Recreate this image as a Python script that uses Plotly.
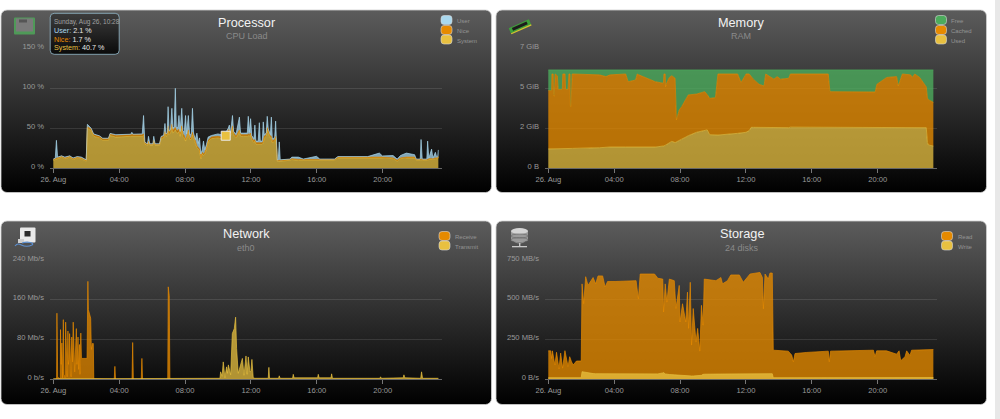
import base64
import plotly.graph_objects as go

# Server monitoring dashboard: four area panels for one day of samples.
tick_hours = [0, 4, 8, 12, 16, 20]
tick_labels = ["26. Aug", "04:00", "08:00", "12:00", "16:00", "20:00"]

# Processor load, percent
cpu_hours = [0.00, 0.12, 0.19, 0.26, 0.50, 0.70, 1.00, 1.20, 1.45, 1.70, 2.00, 2.07, 2.30, 2.45, 2.80, 3.00, 3.35, 3.45, 3.80, 4.70,
             4.77, 4.85, 5.40, 5.48, 5.56, 5.72, 5.78, 5.86, 6.05, 6.10, 6.18, 6.45,
             6.55, 6.70, 6.78, 6.84, 6.92, 6.97, 7.03, 7.12, 7.20, 7.26, 7.34, 7.41, 7.47, 7.56, 7.63, 7.70, 7.80, 7.87, 7.95, 8.03,
             8.10, 8.20, 8.28, 8.38, 8.45, 8.52, 8.62, 8.72, 8.80, 8.88, 8.96, 9.04, 9.12, 9.20, 9.30, 9.40, 9.60, 10.00, 10.20, 10.47,
             10.62, 10.69, 10.76, 10.88, 10.95, 11.10, 11.30, 11.37, 11.55, 11.78, 11.84, 11.90, 11.98, 12.05, 12.18, 12.24, 12.30, 12.44, 12.51, 12.57,
             12.69, 12.75, 12.81, 12.93, 12.99, 13.05, 13.18, 13.24, 13.30, 13.44, 13.50, 13.55, 13.60, 13.66, 13.72, 13.78,
             14.38, 14.48, 14.88, 15.18, 15.98, 16.18, 17.08, 17.28, 19.08, 19.80, 19.98, 20.63, 20.88, 21.08, 21.44, 21.94, 22.04, 22.28, 22.33, 22.40,
             22.68, 22.73, 22.80, 22.97, 23.05, 23.20, 23.27, 23.34, 23.38]
cpu_system = [10, 11, 11, 12, 14, 12, 14, 11, 13, 12, 9, 50, 47, 40, 38, 35, 35, 41, 39, 40,
              40, 40, 40, 41, 30, 29, 33, 29, 29, 34, 29, 29,
              37, 38, 44, 40, 41, 50, 42, 44, 52, 44, 46, 48, 45, 44, 46, 40, 50, 40, 38, 34,
              38, 46, 36, 36, 42, 38, 30, 26, 24, 22, 12, 18, 16, 18, 24, 33, 37, 38, 37, 40.7,
              46, 46, 40, 50, 42, 38, 46, 40, 40, 40, 41, 40, 42, 36, 32, 34, 30, 30, 30, 30,
              30, 32, 38, 40, 48, 44, 38, 38, 32, 34, 38, 28, 9, 9, 9, 9,
              10, 11, 10, 10, 10, 10, 10, 13, 13, 13, 13, 12, 9, 12, 13, 13, 10, 10, 11, 10,
              10, 10, 11, 11, 11, 12, 12, 12, 14]
cpu_nice = [1, 1, 1, 1, 1, 1, 1, 1, 1, 1, 1, 2, 2, 2, 2, 2, 2, 2, 2, 2,
            2, 2, 2, 2, 2, 1, 1, 1, 1, 1, 1, 1,
            2, 2, 2, 2, 2, 3, 3, 3, 3, 3, 3, 3, 3, 3, 3, 3, 3, 3, 3, 2,
            2, 2, 2, 2, 3, 2, 2, 2, 2, 2, 2, 2, 2, 2, 2, 2, 2, 2, 2, 1.7,
            2, 2, 2, 3, 2, 2, 2, 2, 2, 2, 2, 2, 2, 2, 2, 2, 2, 2, 2, 2,
            2, 2, 2, 2, 3, 3, 2, 2, 2, 2, 2, 2, 1, 1, 1, 1,
            1, 1, 1, 1, 1, 1, 1, 1, 1, 1, 1, 1, 1, 1, 1, 1, 1, 1, 1, 1,
            1, 1, 1, 1, 1, 1, 1, 1, 1]
cpu_user = [0.6, 0.6, 23, 1, 0.6, 1, 0.6, 1, 0.6, 1, 0.6, 3, 1, 1, 0.6, 0.6, 0.6, 0.6, 1, 0.6,
            3, 0.6, 1, 23, 0.6, 0.6, 6, 0.6, 0.6, 5, 0.6, 0.6,
            1, 1, 10, 1, 2, 24, 2, 2, 20, 3, 3, 49, 3, 4, 17, 3, 22, 4, 4, 30,
            3, 18, 4, 5, 30, 4, 4, 16, 5, 14, 4, 3, 16, 3, 4, 4, 2, 3, 3, 2.1,
            2, 6, 2, 13, 2, 3, 16, 2, 2, 2, 22, 3, 18, 3, 3, 18, 2, 2, 25, 2,
            2, 24, 2, 2, 14, 3, 2, 24, 3, 2, 19, 2, 0.6, 0.6, 23, 0.6,
            0.6, 2, 3, 0.6, 4, 0.6, 0.6, 0.6, 0.6, 5, 1.5, 3, 1.5, 3, 5, 3, 0.6, 0.6, 24, 0.6,
            0.6, 23, 0.6, 12, 0.6, 7, 1.5, 1.5, 8]
hover_hour = [10.47]
hover_system = [40.7]

# Memory, GiB
mem_hours = [0.00, 0.20, 0.22, 0.30, 0.32, 0.36, 0.42, 0.55, 0.60, 0.85, 0.88, 1.02, 1.05, 1.20, 1.25, 1.32, 1.34, 1.38, 1.45, 3.10,
             3.50, 3.75, 4.70, 4.85, 5.30, 5.40, 5.50, 5.95, 6.50, 6.99, 7.02, 7.10, 7.12, 7.20, 7.35, 7.50, 7.70, 7.78, 7.95, 8.10,
             8.35, 8.50, 9.00, 9.50, 9.65, 9.80, 10.15, 10.30, 11.50, 11.70, 11.95, 12.00, 12.20, 12.32, 12.45, 12.80, 13.10, 13.20, 13.70, 13.90,
             14.10, 14.60, 14.70, 17.00, 17.10, 19.85, 19.95, 20.55, 21.15, 21.25, 21.50, 22.00, 22.10, 22.25, 22.55, 22.95, 23.02, 23.08, 23.38]
mem_used = [1.13, 1.13, 1.13, 1.13, 1.13, 1.13, 1.14, 1.14, 1.14, 1.15, 1.15, 1.15, 1.15, 1.16, 1.16, 1.16, 1.16, 1.16, 1.16, 1.20,
            1.22, 1.24, 1.24, 1.24, 1.24, 1.24, 1.24, 1.24, 1.24, 1.30, 1.30, 1.35, 1.35, 1.40, 1.50, 1.57, 1.50, 1.55, 1.65, 1.70,
            1.82, 1.90, 2.10, 2.24, 2.24, 1.96, 1.94, 1.94, 2.04, 2.05, 2.07, 2.10, 2.20, 2.39, 2.39, 2.38, 2.37, 2.37, 2.37, 2.37,
            2.37, 2.37, 2.40, 2.39, 2.37, 2.38, 2.39, 2.38, 2.38, 2.39, 2.37, 2.38, 2.38, 2.38, 2.38, 2.37, 1.50, 1.36, 1.30]
mem_cached = [3.40, 3.40, 4.37, 4.37, 3.17, 3.07, 4.36, 4.26, 3.46, 3.45, 4.35, 4.35, 3.45, 3.44, 4.34, 4.34, 2.44, 2.44, 4.34, 4.25,
              4.13, 4.21, 4.26, 3.81, 3.91, 4.26, 4.21, 4.01, 3.81, 3.66, 4.20, 4.15, 3.40, 3.60, 3.80, 3.83, 3.75, 1.27, 1.75, 1.90,
              2.18, 2.38, 2.23, 2.23, 2.06, 2.12, 2.18, 3.56, 3.46, 2.95, 3.33, 3.40, 3.30, 2.96, 2.81, 2.52, 2.43, 3.13, 2.83, 2.98,
              2.83, 2.88, 3.10, 3.11, 2.10, 2.07, 2.51, 2.92, 2.97, 2.41, 3.13, 3.07, 2.92, 3.12, 2.92, 2.38, 2.60, 2.64, 2.55]
mem_free = [1.21, 1.21, 0.24, 0.24, 1.44, 1.54, 0.24, 0.34, 1.14, 1.14, 0.24, 0.24, 1.14, 1.14, 0.24, 0.24, 2.14, 2.14, 0.24, 0.29,
            0.39, 0.29, 0.24, 0.69, 0.59, 0.24, 0.29, 0.49, 0.69, 0.78, 0.24, 0.24, 0.99, 0.74, 0.44, 0.34, 0.49, 2.92, 2.34, 2.14,
            1.74, 1.46, 1.41, 1.27, 1.44, 1.66, 1.62, 0.24, 0.24, 0.74, 0.34, 0.24, 0.24, 0.39, 0.54, 0.84, 0.94, 0.24, 0.54, 0.39,
            0.54, 0.49, 0.24, 0.24, 1.27, 1.29, 0.84, 0.44, 0.39, 0.94, 0.24, 0.29, 0.44, 0.24, 0.44, 0.99, 1.64, 1.74, 1.89]

# Network throughput on eth0, Mb/s
rx_hours = [0.00, 0.20, 0.22, 0.27, 0.42, 0.44, 0.48, 0.52, 0.56, 0.61, 0.65, 0.72, 0.75, 0.79, 0.84, 0.89, 0.92, 0.95, 0.99, 1.03,
            1.08, 1.12, 1.16, 1.21, 1.25, 1.30, 1.40, 1.44, 1.50, 1.54, 1.59, 1.62, 1.67, 1.71, 2.05, 2.10, 2.13, 2.20, 2.27, 2.31,
            2.37, 2.43, 2.46, 3.70, 3.74, 3.78, 4.78, 4.82, 4.86, 5.34, 5.38, 5.42, 6.95, 6.98, 7.04, 7.08, 23.38]
rx_rate = [0, 1, 133, 4, 1, 100, 30, 73, 3, 120, 10, 3, 115, 30, 5, 97, 30, 40, 92, 25,
           5, 85, 35, 115, 40, 15, 102, 30, 85, 20, 70, 10, 93, 42, 42, 197, 140, 133, 123, 60,
           72, 72, 1, 0, 26, 0, 0, 74, 0, 0, 42, 0, 0, 186, 168, 0, 0]
tx_hours = [0.00, 9.10, 9.15, 9.20, 10.12, 10.16, 10.25, 10.32, 10.42, 10.52, 10.57, 10.63, 10.77, 10.87, 10.99, 11.07, 11.13, 11.23, 11.37, 11.48,
            11.58, 11.70, 11.77, 11.84, 11.94, 12.00, 12.06, 12.14, 12.24, 13.05, 13.09, 13.13, 13.68, 13.72, 13.77, 14.53, 14.57, 14.62, 16.05, 16.09,
            16.14, 16.86, 16.90, 16.95, 19.83, 19.87, 19.92, 21.00, 21.25, 21.29, 21.34, 22.31, 22.36, 22.42, 23.38]
tx_rate = [1, 2, 3, 2, 2, 15, 6, 35, 3, 25, 12, 29, 9, 92, 102, 125, 62, 12, 32, 42,
           8, 47, 10, 45, 15, 17, 40, 3, 2, 2, 24, 2, 2, 7, 2, 2, 10, 3, 3, 10,
           3, 3, 11, 2, 2, 5, 2, 3, 3, 9, 3, 2, 15, 2, 2]

# Storage throughput over 24 disks, MB/s
disk_hours = [0.00, 0.15, 0.20, 0.25, 0.40, 0.50, 0.65, 0.75, 0.87, 1.01, 1.20, 1.30, 1.41, 1.51, 1.71, 2.00, 2.05, 2.15, 2.27, 2.41,
              2.72, 2.88, 3.02, 3.30, 3.45, 3.60, 4.11, 5.33, 5.47, 5.58, 6.45, 6.65, 6.95, 7.00, 7.10, 7.20, 7.35, 7.65, 7.75, 7.95,
              8.00, 8.15, 8.35, 8.45, 8.52, 8.62, 8.70, 8.80, 8.97, 9.07, 9.20, 9.30, 9.40, 9.47, 10.18, 10.48, 10.58, 10.88, 11.08, 11.60,
              11.84, 12.25, 12.85, 13.00, 13.06, 13.16, 13.36, 13.46, 13.60, 13.66, 14.57, 14.78, 14.88, 14.98, 15.70, 17.00, 17.06, 17.14, 19.74, 19.84,
              19.94, 20.54, 21.15, 21.30, 21.40, 21.66, 21.76, 21.96, 22.06, 23.38]
disk_write = [10, 10, 10, 10, 10, 10, 10, 10, 10, 10, 10, 10, 10, 10, 10, 10, 48, 46, 42, 38,
              36, 35, 35, 34, 34, 34, 35, 36, 36, 37, 36, 34, 40, 42, 34, 32, 30, 28, 27, 26,
              24, 24, 23, 23, 22, 22, 21, 21, 21, 21, 21, 25, 31, 32, 33, 33, 33, 33, 33, 33,
              33, 33, 34, 34, 34, 34, 35, 35, 35, 10, 10, 10, 10, 10, 10, 10, 10, 10, 11, 11,
              11, 11, 11, 11, 11, 11, 11, 11, 11, 11]
disk_read = [179, 179, 131, 179, 90, 170, 65, 165, 70, 180, 80, 142, 110, 90, 115, 115, 600, 475, 645, 590,
             640, 600, 650, 650, 580, 615, 615, 620, 505, 662, 662, 635, 630, 423, 600, 485, 630, 620, 445, 590,
             360, 475, 360, 548, 320, 610, 215, 445, 235, 320, 177, 465, 340, 630, 620, 640, 600, 620, 656, 656,
             610, 662, 672, 640, 443, 662, 630, 668, 668, 183, 177, 152, 110, 162, 169, 177, 110, 177, 183, 142,
             179, 179, 158, 179, 117, 142, 179, 150, 183, 187]

USER, NICE, SYSTEM = "#a9d8ee", "#e68a00", "#e8c040"
FREE = "#4cab5c"

PANELS = [(1, 10, 491.5, 192.5), (496, 10, 986.5, 192.5), (1, 221, 491.5, 404.5), (496, 221, 986.5, 404.5)]


def px_x(x):
    return x / 1000


def px_y(y):
    return 1 - y / 419


def swatch(x, y, colour):
    return (f'<rect x="{x}" y="{y}" width="11" height="9" rx="3" fill="{colour}" '
            'stroke="#d8d8d8" stroke-opacity="0.75" stroke-width="0.8"/>')


# Card backgrounds, icons, legend swatches and the tooltip box share one vector layer.
svg = ['<svg xmlns="http://www.w3.org/2000/svg" width="1000" height="419" viewBox="0 0 1000 419">',
       '<defs><linearGradient id="card" x1="0" y1="0" x2="0" y2="1">'
       '<stop offset="0" stop-color="#5c5c5c"/><stop offset="1" stop-color="#000"/></linearGradient>'
       '<linearGradient id="tip" x1="0" y1="0" x2="0" y2="1">'
       '<stop offset="0" stop-color="#3c3c3c"/><stop offset="1" stop-color="#0a0a0a"/></linearGradient></defs>',
       '<rect x="995" y="0" width="5" height="419" fill="#e8e8e8"/>']
for x0, y0, x1, y1 in PANELS:
    svg.append(f'<rect x="{x0}" y="{y0}" width="{x1 - x0}" height="{y1 - y0}" rx="6" fill="url(#card)" '
               'stroke="#cfcfcf" stroke-width="0.8"/>')
# chip
svg.append('<rect x="14" y="17.5" width="21" height="17" rx="1" fill="#4f9a58"/>'
           '<rect x="16" y="18.5" width="17" height="13" fill="#7a7a7a"/>'
           '<rect x="19" y="19.5" width="8" height="3" fill="#555"/>')
# memory module
svg.append('<g transform="rotate(-24 520 26.5)"><rect x="509" y="23.5" width="22" height="6" fill="#3ea03a"/>'
           '<rect x="512" y="24.5" width="16" height="3" fill="#1c1c1c"/>'
           '<rect x="509" y="29" width="22" height="1.2" fill="#d8c030"/></g>')
# network socket and cable
svg.append('<rect x="20" y="227.5" width="15.5" height="15" rx="1" fill="#e9e9e9"/>'
           '<rect x="24.5" y="231" width="6" height="5.5" fill="#2a2a2a"/>'
           '<rect x="18" y="239" width="6" height="4" fill="#cfcfcf"/>'
           '<path d="M15 246 C 20 240, 22 250, 32 245 C 35 243, 28 241, 22 243" fill="none" stroke="#5c8fd0" stroke-width="1.1"/>')
# disk stack
svg.append('<ellipse cx="519.5" cy="236" rx="8.5" ry="7.5" fill="#a6a6a6"/>'
           '<rect x="511" y="231" width="17" height="10" fill="#9a9a9a"/>'
           '<ellipse cx="519.5" cy="231" rx="8.5" ry="3" fill="#d4d4d4"/>'
           '<ellipse cx="519.5" cy="236" rx="8.5" ry="2" fill="none" stroke="#6a6a6a" stroke-width="0.7"/>'
           '<ellipse cx="519.5" cy="240" rx="8.5" ry="2.4" fill="none" stroke="#6a6a6a" stroke-width="0.7"/>'
           '<rect x="519" y="243" width="1.4" height="3" fill="#c8c8c8"/>'
           '<rect x="512" y="246" width="15" height="1.3" fill="#c8c8c8"/>')
for y, c in zip((15.5, 25.5, 35), (USER, NICE, SYSTEM)):
    svg.append(swatch(441, y, c))
for y, c in zip((15.5, 25.5, 35), (FREE, NICE, SYSTEM)):
    svg.append(swatch(935.5, y, c))
for y, c in zip((231.5, 241), (NICE, SYSTEM)):
    svg.append(swatch(439, y, c))
    svg.append(swatch(941.5, y, c))
svg.append('<rect x="50.2" y="13.3" width="69" height="41" rx="4" fill="url(#tip)" '
           'stroke="#8fb4c4" stroke-opacity="0.85" stroke-width="1"/>')
svg.append('</svg>')
background = "data:image/svg+xml;base64," + base64.b64encode("".join(svg).encode()).decode()

fig = go.Figure()


def add_area(hours, values, colour, alpha, axis, group=None):
    r, g, b = int(colour[1:3], 16), int(colour[3:5], 16), int(colour[5:7], 16)
    fill = dict(stackgroup=group) if group else dict(fill="tozeroy")
    fig.add_trace(go.Scatter(x=hours, y=values, mode="lines",
                             line=dict(color=f"rgba({r},{g},{b},0.85)", width=0.8),
                             fillcolor=f"rgba({r},{g},{b},{alpha})",
                             xaxis=f"x{axis}", yaxis=f"y{axis}", hoverinfo="skip", showlegend=False, **fill))


# Processor and memory stack their series; network and storage overlap from zero.
add_area(cpu_hours, cpu_system, SYSTEM, 0.75, 1, "cpu")
add_area(cpu_hours, cpu_nice, NICE, 0.75, 1, "cpu")
add_area(cpu_hours, cpu_user, USER, 0.75, 1, "cpu")
fig.add_trace(go.Scatter(x=hover_hour, y=hover_system, mode="markers", xaxis="x1", yaxis="y1",
                         marker=dict(symbol="square", size=9, color=SYSTEM, line=dict(color="#e8e8e8", width=1)),
                         hoverinfo="skip", showlegend=False))

add_area(mem_hours, mem_used, SYSTEM, 0.75, 2, "mem")
add_area(mem_hours, mem_cached, NICE, 0.78, 2, "mem")
add_area(mem_hours, mem_free, FREE, 0.8, 2, "mem")

add_area(rx_hours, rx_rate, NICE, 0.75, 3)
add_area(tx_hours, tx_rate, SYSTEM, 0.75, 3)

add_area(disk_hours, disk_read, NICE, 0.78, 4)
add_area(disk_hours, disk_write, SYSTEM, 0.75, 4)

TICK_FONT = dict(family="Liberation Sans, Arial, sans-serif", size=7.6, color="#9a9a9a")
AXES = [
    (1, 50, 442.3, 48.3, 168.3, 150, [0, 50, 100, 150], ["0 %", "50 %", "100 %", "150 %"]),
    (2, 545, 937.3, 48.3, 168.3, 7, [0, 7 / 3, 14 / 3, 7], ["0 B", "2 GiB", "5 GiB", "7 GiB"]),
    (3, 50, 442.3, 260, 379.3, 240, [0, 80, 160, 240], ["0 b/s", "80 Mb/s", "160 Mb/s", "240 Mb/s"]),
    (4, 545, 937.3, 260, 379.3, 750, [0, 250, 500, 750], ["0 B/s", "250 MB/s", "500 MB/s", "750 MB/s"]),
]
axis_layout = {}
for n, left, right, top, bottom, ymax, yticks, ylabels in AXES:
    axis_layout[f"xaxis{n}"] = dict(domain=[px_x(left), px_x(right)], range=[-0.2, 23.62], anchor=f"y{n}",
                                    tickmode="array", tickvals=tick_hours, ticktext=tick_labels,
                                    ticks="outside", ticklen=4, tickcolor="#777", tickwidth=1, automargin=False,
                                    showline=True, linecolor="#666", linewidth=1,
                                    showgrid=False, zeroline=False, tickfont=TICK_FONT)
    axis_layout[f"yaxis{n}"] = dict(domain=[px_y(bottom), px_y(top)], range=[0, ymax], anchor=f"x{n}",
                                    tickmode="array", tickvals=yticks, ticktext=ylabels, automargin=False,
                                    ticklabelstandoff=5, ticklabelshift=-2,
                                    showgrid=True, gridcolor="rgba(255,255,255,0.11)", gridwidth=1,
                                    zeroline=False, showline=False, ticks="", tickfont=TICK_FONT)

annotations = []


def label(x, y, text, size, colour, anchor="center"):
    annotations.append(dict(x=px_x(x), y=px_y(y), xref="paper", yref="paper", text=text, showarrow=False,
                            xanchor=anchor, yanchor="middle", borderpad=0,
                            font=dict(family="Liberation Sans, Arial, sans-serif", size=size, color=colour)))


for x, y, title, sub in [(246.5, 23, "Processor", "CPU Load"), (741, 23, "Memory", "RAM"),
                         (246, 234, "Network", "eth0"), (741.5, 234, "Storage", "24 disks")]:
    label(x, y, title, 12.7, "#f2f2f2")
    label(x, y + 13.5, sub, 9, "#8a8a8a")

for x, ys, names in [(455.7, (20.7, 30.7, 40.7), ("User", "Nice", "System")),
                     (950, (20.7, 30.7, 40.7), ("Free", "Cached", "Used")),
                     (454, (237, 246.7), ("Receive", "Transmit")),
                     (956.7, (237, 246.7), ("Read", "Write"))]:
    for y, name in zip(ys, names):
        label(x, y, name, 6, "#949494", "left")

label(53.3, 22.3, "Sunday, Aug 26, 10:28", 6.5, "#a0a0a0", "left")
for y, name, colour, value in [(30.7, "User", USER, "2.1 %"), (39.3, "Nice", NICE, "1.7 %"), (47.7, "System", SYSTEM, "40.7 %")]:
    label(53.3, y, f'<span style="color:{colour}">{name}:</span> {value}', 7.2, "#e8e8e8", "left")

fig.update_layout(width=1000, height=419, margin=dict(l=0, r=0, t=0, b=0), autosize=False,
                  paper_bgcolor="#ffffff", plot_bgcolor="rgba(0,0,0,0)", showlegend=False,
                  images=[dict(source=background, xref="paper", yref="paper", x=0, y=1, sizex=1, sizey=1,
                               xanchor="left", yanchor="top", sizing="stretch", layer="below")],
                  annotations=annotations, **axis_layout)

fig.write_html("out.html", config=dict(displayModeBar=False, responsive=False))
